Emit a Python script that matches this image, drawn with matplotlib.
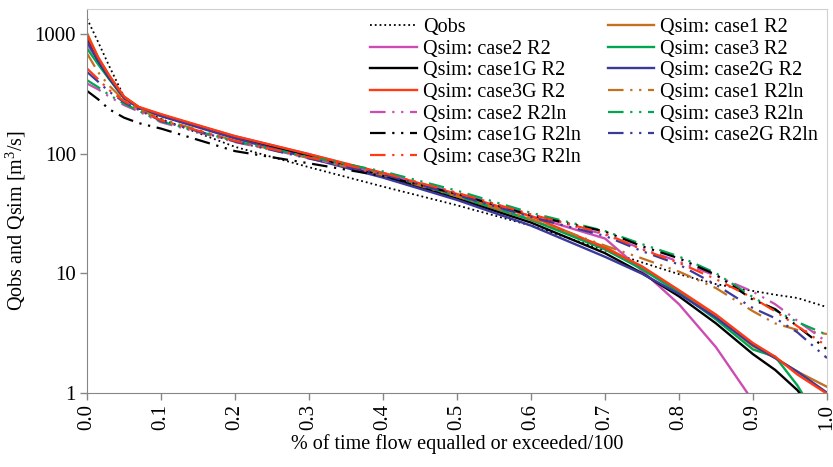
import matplotlib
matplotlib.use("Agg")
import matplotlib.pyplot as plt
from matplotlib.ticker import FixedLocator, NullLocator, FixedFormatter

plt.rcParams['font.family'] = ['Liberation Serif', 'DejaVu Serif']
plt.rcParams['mathtext.fontset'] = 'custom'
plt.rcParams['mathtext.rm'] = 'Liberation Serif'

# exceedance fraction
x = [0, 0.015, 0.03, 0.05, 0.07, 0.1, 0.2, 0.3, 0.4, 0.5, 0.6, 0.7, 0.75, 0.8, 0.85, 0.9, 0.93, 0.96, 1.0]

qobs         = [1350, 860, 540, 300, 238, 195, 114, 77, 53, 37, 25, 15.5, 12.3, 9.8, 8.1, 7.1, 6.6, 6.2, 5.2]
case1_r2     = [1020, 640, 450, 300, 245, 212, 138, 97, 67, 44, 28, 16.6, 11.2, 7.0, 4.3, 2.45, 1.95, 1.5, 1.12]
case2_r2     = [830, 600, 430, 292, 242, 210, 140, 99, 68, 45, 30, 19.5, 10.5, 5.5, 2.4, 0.85, 0.5, 0.3, 0.2]
case3_r2     = [760, 560, 420, 290, 242, 208, 137, 97, 67, 44, 28, 15.8, 10.8, 6.9, 4.1, 2.3, 2.0, 1.15, 0.45]
case1g_r2    = [900, 600, 430, 295, 243, 208, 136, 95, 65, 42, 26.5, 14.7, 10.0, 6.4, 3.8, 2.1, 1.55, 1.05, 0.5]
case2g_r2    = [870, 600, 430, 292, 242, 206, 134, 92, 63, 41, 25, 13.7, 9.9, 6.7, 4.25, 2.5, 1.95, 1.5, 1.0]
case3g_r2    = [980, 640, 450, 300, 246, 214, 140, 99, 69, 46, 30, 16.3, 11.4, 7.2, 4.5, 2.6, 2.0, 1.42, 0.98]
case1_r2ln   = [690, 480, 370, 280, 235, 195, 128, 92, 66, 44, 28.5, 17.0, 13.3, 10.3, 7.5, 4.8, 3.8, 3.35, 3.1]
case2_r2ln   = [386, 345, 300, 255, 225, 183, 125, 92, 68, 47, 31, 21.0, 16.0, 12.5, 9.5, 7.0, 5.5, 4.0, 2.65]
case3_r2ln   = [412, 360, 310, 262, 228, 186, 127, 94, 71, 49, 32, 22.5, 17.5, 13.8, 10.0, 6.3, 4.9, 3.9, 3.05]
case1g_r2ln  = [335, 285, 235, 200, 180, 162, 105, 83, 65, 46, 30.5, 22.3, 16.8, 13.3, 9.7, 6.0, 5.0, 3.6, 2.3]
case2g_r2ln  = [483, 400, 330, 270, 232, 188, 126, 91, 67, 45, 29.5, 20.5, 15.3, 11.8, 8.0, 5.1, 4.2, 3.2, 1.95]
case3g_r2ln  = [516, 420, 340, 275, 235, 190, 128, 93, 69, 47, 31, 21.5, 15.8, 12.2, 8.9, 6.2, 4.8, 3.6, 2.45]

labels = ["Qobs", "Qsim: case1 R2", "Qsim: case2 R2", "Qsim: case3 R2",
          "Qsim: case1G R2", "Qsim: case2G R2", "Qsim: case3G R2",
          "Qsim: case1 R2ln", "Qsim: case2 R2ln", "Qsim: case3 R2ln",
          "Qsim: case1G R2ln", "Qsim: case2G R2ln", "Qsim: case3G R2ln"]
series = [qobs, case1_r2, case2_r2, case3_r2, case1g_r2, case2g_r2, case3g_r2,
          case1_r2ln, case2_r2ln, case3_r2ln, case1g_r2ln, case2g_r2ln, case3g_r2ln]

brown, pink, green, black, blue, red = '#C4701E', '#CC4CB4', '#00A651', '#000000', '#3A3A9E', '#FF3A14'
colors = ['#000000', brown, pink, green, black, blue, red, brown, pink, green, black, blue, red]
dashdotdot = (0, (7, 3, 1, 3, 1, 3))
styles = [':'] + ['-'] * 6 + [dashdotdot] * 6
widths = [1.3] + [1.7] * 6 + [1.6] * 6

fig = plt.figure(figsize=(8.33, 4.67), dpi=100)
ax = fig.add_axes([87 / 833, 1 - 392.7 / 467, 740 / 833, (392.7 - 9) / 467])

handles = []
for s, lab, c, ls, lw in zip(series, labels, colors, styles, widths):
    h, = ax.plot(x, s, color=c, linestyle=ls, linewidth=lw, label=lab)
    handles.append(h)

ax.set_yscale('log')
ax.set_xlim(0, 1)
ax.set_ylim(1, 10 ** 3.21)
ax.yaxis.set_major_locator(FixedLocator([1, 10, 100, 1000]))
ax.yaxis.set_major_formatter(FixedFormatter(['1', '10', '100', '1000']))
ax.yaxis.set_minor_locator(NullLocator())
xt = [i / 10 for i in range(11)]
ax.set_xticks(xt)
ax.set_xticklabels([f"{v:.1f}" for v in xt], rotation=90)
ax.tick_params(axis='both', direction='out', length=5, width=1, color='#868686', labelsize=15, pad=3)

for side in ['left', 'bottom']:
    ax.spines[side].set_color('#868686')
for side in ['top', 'right']:
    ax.spines[side].set_color('#D0D0D0')

ax.set_xlabel("% of time flow equalled or exceeded/100", fontsize=14.5, labelpad=3)
ax.set_ylabel("Qobs and Qsim [m$^3$/s]", fontsize=14.5)
ax.yaxis.set_label_coords(-0.08, 0.45)

order = [0, 2, 4, 6, 8, 10, 12, 1, 3, 5, 7, 9, 11]
leg = ax.legend([handles[i] for i in order], [labels[i] for i in order],
                ncol=2, loc='upper right', bbox_to_anchor=(1.0, 1.0),
                fontsize=14.5, frameon=False, handlelength=2.3, handletextpad=0.3,
                columnspacing=1.35, labelspacing=0.125, borderaxespad=0.05)

fig.savefig("out.png", dpi=100)
